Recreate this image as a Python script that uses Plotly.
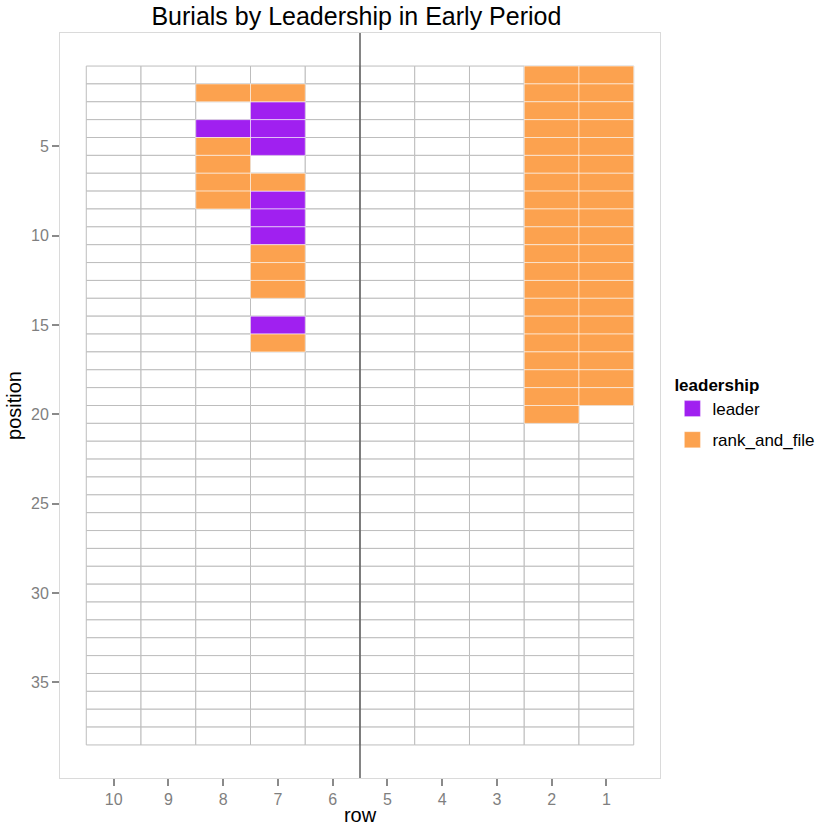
import plotly.graph_objects as go

# ---- data ----
rows = [10, 9, 8, 7, 6, 5, 4, 3, 2, 1]
positions = list(range(1, 39))
y_ticks = [5, 10, 15, 20, 25, 30, 35]
divider = 5.5

# filled burials: row, position, leadership
cell_row = ([8] * 6 +
            [7] * 13 +
            [2] * 20 +
            [1] * 19)
cell_position = ([2, 4, 5, 6, 7, 8] +
                 [2, 3, 4, 5, 7, 8, 9, 10, 11, 12, 13, 15, 16] +
                 list(range(1, 21)) +
                 list(range(1, 20)))
cell_leadership = (["rank_and_file", "leader", "rank_and_file", "rank_and_file", "rank_and_file", "rank_and_file"] +
                   ["rank_and_file", "leader", "leader", "leader", "rank_and_file", "leader", "leader", "leader",
                    "rank_and_file", "rank_and_file", "rank_and_file", "leader", "rank_and_file"] +
                   ["rank_and_file"] * 20 +
                   ["rank_and_file"] * 19)

categories = ["leader", "rank_and_file"]
colors = {"leader": "#A020F0", "rank_and_file": "#FCA24F"}

FONT = "Liberation Sans, Arial, Helvetica, sans-serif"

fig = go.Figure()

# background grid of all cells
bx, bb = [], []
for r in rows:
    for p in positions:
        bx.append(r)
        bb.append(p - 0.5)
fig.add_trace(go.Bar(
    x=bx, y=[1] * len(bx), base=bb, width=1,
    marker=dict(color="white", line=dict(color="#bdbdbd", width=1)),
    showlegend=False, hoverinfo="skip"))

for cat in categories:
    xs = [r for r, l in zip(cell_row, cell_leadership) if l == cat]
    bs = [p - 0.5 for p, l in zip(cell_position, cell_leadership) if l == cat]
    fig.add_trace(go.Bar(
        x=xs, y=[1] * len(xs), base=bs, width=1, name=cat, legendgroup=cat,
        showlegend=False,
        marker=dict(color=colors[cat], line=dict(color="rgba(255,255,255,0.55)", width=1)),
        hoverinfo="skip"))
    # legend key
    fig.add_trace(go.Scatter(
        x=[None], y=[None], mode="markers", name=cat, legendgroup=cat,
        marker=dict(symbol="square", size=16, color=colors[cat],
                    line=dict(color="rgba(255,255,255,0.6)", width=0.5)),
        hoverinfo="skip"))

fig.add_shape(type="line", xref="x", yref="paper", x0=divider, x1=divider, y0=0, y1=1,
              line=dict(color="#5c5c5c", width=1.5))

fig.update_layout(
    width=818, height=826,
    margin=dict(l=60, r=158, t=33, b=48),
    barmode="overlay",
    paper_bgcolor="white", plot_bgcolor="white",
    font=dict(family=FONT, color="black"),
    title=dict(text="Burials by Leadership in Early Period", x=0.494, xref="paper",
               xanchor="center", y=0.9806, yanchor="middle",
               font=dict(size=25, color="black", family=FONT)),
    legend=dict(xref="container", yref="container", x=0.822, xanchor="left",
                y=0.5533, yanchor="top",
                title=dict(text="<b>leadership</b>", font=dict(size=17, color="black")),
                font=dict(size=17, color="black"), bgcolor="rgba(0,0,0,0)",
                tracegroupgap=6),
    xaxis=dict(range=[10.98, 0.02], tickvals=rows, ticktext=[str(r) for r in rows],
               ticks="outside", ticklen=7, tickwidth=1.5, tickcolor="#8a8a8a",
               tickfont=dict(size=16, color="#7f7f7f"),
               showgrid=False, zeroline=False, automargin=False,
               showline=True, mirror=True, linecolor="#dadada", linewidth=1,
               title=dict(text="row", font=dict(size=20, color="black"), standoff=5)),
    yaxis=dict(range=[40.35, -1.35], tickvals=y_ticks,
               ticks="outside", ticklen=7, tickwidth=1.5, tickcolor="#8a8a8a",
               tickfont=dict(size=16, color="#7f7f7f"),
               showgrid=False, zeroline=False, automargin=False,
               showline=True, mirror=True, linecolor="#dadada", linewidth=1,
               title=dict(text="position", font=dict(size=20, color="black"), standoff=4)),
)

fig.write_html("out.html", config={"displayModeBar": False},
               post_script="document.body.style.margin='0';")
